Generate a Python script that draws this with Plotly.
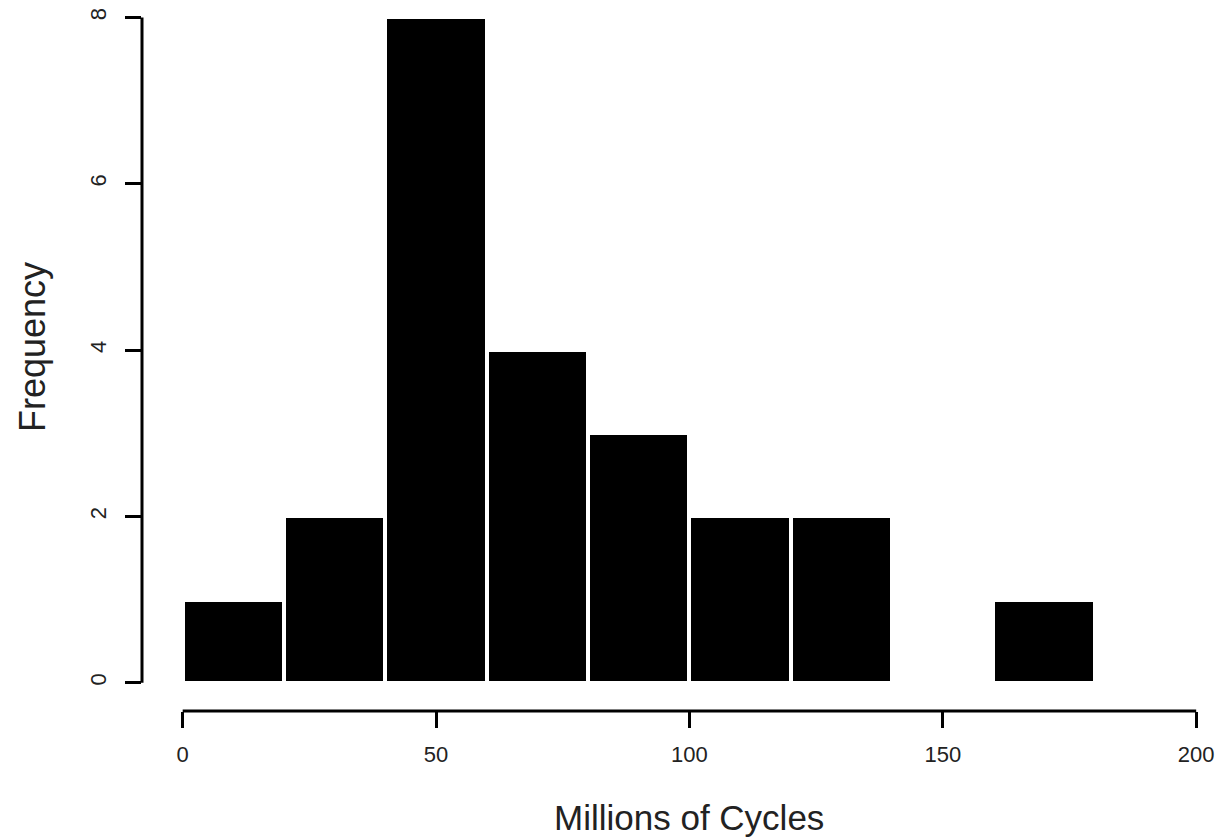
import plotly.graph_objects as go

bin_left = [0, 20, 40, 60, 80, 100, 120, 140, 160]
bin_width = 20
counts = [1, 2, 8, 4, 3, 2, 2, 0, 1]
x_ticks = [0, 50, 100, 150, 200]
y_ticks = [0, 2, 4, 6, 8]
x_title = "Millions of Cycles"
y_title = "Frequency"

centers = [b + bin_width / 2 for b in bin_left]

FONT = "Liberation Sans, Arial, Helvetica, sans-serif"

fig = go.Figure()
fig.add_trace(go.Bar(
    x=centers, y=counts, width=bin_width,
    marker=dict(color="black", line=dict(color="white", width=4)),
    showlegend=False, hoverinfo="skip",
))

fig.update_layout(
    width=1220, height=840,
    margin=dict(l=142, r=0, t=0, b=129),
    plot_bgcolor="white", paper_bgcolor="white",
    bargap=0,
    font=dict(family=FONT, color="black"),
    xaxis=dict(
        range=[-8.03, 204.7], showgrid=False, zeroline=False, showline=False,
        tickmode="array", tickvals=x_ticks, ticktext=[str(v) for v in x_ticks],
        ticks="outside", ticklen=16, tickwidth=3, tickcolor="black",
        ticklabelstandoff=8,
        tickfont=dict(size=22, family=FONT, color="#222"),
    ),
    yaxis=dict(
        range=[-0.34, 8.21], showgrid=False, zeroline=False, showline=False,
        tickmode="array", tickvals=y_ticks, ticktext=[str(v) for v in y_ticks],
        ticks="outside", ticklen=16, tickwidth=2.5, tickcolor="black",
        tickangle=-90, ticklabelstandoff=10,
        tickfont=dict(size=22, family=FONT, color="#222"),
    ),
    shapes=[
        dict(type="line", xref="x", yref="paper", x0=x_ticks[0], x1=x_ticks[-1], y0=0, y1=0,
             line=dict(color="black", width=3)),
        dict(type="line", xref="paper", yref="y", x0=0, x1=0, y0=y_ticks[0], y1=y_ticks[-1],
             line=dict(color="black", width=3)),
    ],
    annotations=[
        dict(text=x_title, xref="x", yref="paper",
             x=(x_ticks[0] + x_ticks[-1]) / 2, y=0,
             xanchor="center", yanchor="middle", yshift=-106, showarrow=False,
             font=dict(size=35, family=FONT, color="#222")),
        dict(text=y_title, xref="paper", yref="y",
             x=0, y=(y_ticks[0] + y_ticks[-1]) / 2, textangle=-90,
             xanchor="center", yanchor="middle", xshift=-110, yshift=3, showarrow=False,
             font=dict(size=36, family=FONT, color="#222")),
    ],
)

fig.write_html("out.html", config={"displayModeBar": False},
               post_script="document.body.style.margin='0';document.body.style.overflow='hidden';")
